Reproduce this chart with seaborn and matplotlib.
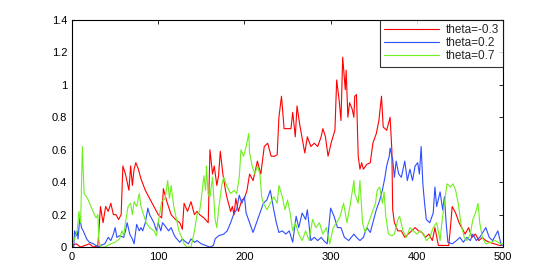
import matplotlib
matplotlib.use("Agg")
import matplotlib.pyplot as plt
import pandas as pd
import seaborn as sns

# theta = -0.3 (red)
red_x = [0, 5, 10, 15, 20, 25, 30, 33, 36, 39, 42, 45, 48, 51, 54, 57, 59, 62, 64, 66,
         68, 70, 72, 74, 77, 80, 85, 90, 95, 100, 104, 106, 110, 115, 120, 125, 128, 130,
         134, 138, 142, 145, 148, 153, 158, 160, 163, 165, 168, 170, 172, 175, 178, 180,
         184, 186, 188, 190, 193, 197, 200, 203, 206, 210, 213, 215, 219, 223, 227, 231,
         235, 238, 240, 243, 246, 250, 254, 256, 259, 261, 264, 267, 270, 273, 277, 281,
         285, 289, 291, 294, 297, 301, 305, 307, 310, 312, 314, 317, 318, 320, 322, 325,
         327, 328, 330, 332, 334, 336, 338, 342, 346, 349, 353, 356, 359, 361, 365, 369,
         371, 372, 374, 378, 382, 386, 390, 394, 398, 402, 406, 410, 414, 418, 421, 425,
         430, 437, 439, 441, 445, 449, 452, 456, 460, 464, 468, 472, 476, 480, 484, 490,
         496, 500]
red_y = [0.01, 0.02, 0.0, 0.01, 0.02, 0.0, 0.01, 0.25, 0.15, 0.25, 0.22, 0.27, 0.2, 0.2,
         0.17, 0.2, 0.5, 0.45, 0.4, 0.35, 0.5, 0.38, 0.48, 0.52, 0.48, 0.42, 0.35, 0.3,
         0.25, 0.2, 0.18, 0.36, 0.28, 0.2, 0.17, 0.15, 0.11, 0.27, 0.22, 0.28, 0.2, 0.22,
         0.2, 0.18, 0.15, 0.6, 0.45, 0.5, 0.38, 0.44, 0.59, 0.45, 0.35, 0.3, 0.22, 0.25,
         0.2, 0.3, 0.22, 0.29, 0.3, 0.35, 0.45, 0.41, 0.48, 0.53, 0.45, 0.62, 0.64, 0.56,
         0.56, 0.57, 0.8, 0.93, 0.73, 0.73, 0.73, 0.83, 0.68, 0.87, 0.76, 0.67, 0.58,
         0.68, 0.62, 0.64, 0.62, 0.68, 0.73, 0.68, 0.56, 0.65, 0.72, 1.03, 0.9, 0.78,
         1.17, 0.97, 1.09, 0.8, 0.89, 0.85, 0.8, 0.93, 0.94, 0.56, 0.48, 0.52, 0.48, 0.51,
         0.52, 0.64, 0.7, 0.78, 0.93, 0.74, 0.72, 0.8, 0.6, 0.23, 0.15, 0.1, 0.1, 0.06,
         0.08, 0.1, 0.12, 0.1, 0.09, 0.06, 0.08, 0.04, 0.12, 0.01, 0.01, 0.01, 0.12, 0.25,
         0.21, 0.15, 0.12, 0.08, 0.12, 0.06, 0.08, 0.04, 0.06, 0.04, 0.03, 0.02, 0.01,
         0.01]

# theta = 0.2 (blue)
blue_x = [0, 2, 3, 5, 6, 7, 9, 11, 13, 17, 20, 25, 30, 33, 38, 42, 45, 48, 50, 52, 55,
          60, 62, 64, 67, 70, 72, 75, 78, 80, 82, 85, 88, 90, 92, 95, 98, 100, 103, 105,
          108, 112, 115, 118, 120, 125, 128, 130, 135, 138, 142, 145, 150, 155, 160, 164,
          166, 170, 176, 180, 184, 188, 191, 194, 197, 200, 202, 206, 210, 214, 218, 222,
          226, 230, 232, 234, 237, 240, 244, 248, 252, 256, 260, 263, 267, 271, 273, 277,
          281, 285, 289, 292, 296, 300, 304, 308, 312, 316, 321, 327, 330, 334, 338, 342,
          346, 349, 353, 357, 360, 363, 365, 368, 369, 372, 374, 376, 379, 382, 386, 389,
          392, 395, 398, 401, 403, 405, 407, 409, 411, 415, 419, 421, 423, 427, 430, 432,
          434, 436, 441, 446, 450, 454, 458, 462, 465, 469, 473, 480, 484, 488, 494, 498,
          500]
blue_y = [0.0, 0.0, 0.1, 0.07, 0.1, 0.05, 0.18, 0.12, 0.1, 0.05, 0.03, 0.02, 0.0, 0.01,
          0.02, 0.06, 0.04, 0.08, 0.12, 0.06, 0.07, 0.06, 0.1, 0.15, 0.08, 0.05, 0.02,
          0.14, 0.1, 0.12, 0.1, 0.15, 0.24, 0.2, 0.18, 0.15, 0.1, 0.15, 0.1, 0.15, 0.13,
          0.1, 0.12, 0.08, 0.06, 0.03, 0.05, 0.04, 0.02, 0.05, 0.03, 0.04, 0.02, 0.01,
          0.0, 0.01, 0.05, 0.07, 0.08, 0.1, 0.15, 0.21, 0.23, 0.32, 0.27, 0.31, 0.21,
          0.15, 0.09, 0.15, 0.21, 0.27, 0.29, 0.35, 0.29, 0.23, 0.15, 0.09, 0.1, 0.08,
          0.1, 0.03, 0.19, 0.12, 0.21, 0.17, 0.23, 0.04, 0.06, 0.04, 0.06, 0.04, 0.02,
          0.24, 0.19, 0.12, 0.12, 0.06, 0.04, 0.08, 0.06, 0.04, 0.06, 0.12, 0.09, 0.15,
          0.23, 0.29, 0.35, 0.43, 0.5, 0.56, 0.61, 0.54, 0.43, 0.53, 0.45, 0.43, 0.53,
          0.41, 0.48, 0.41, 0.5, 0.52, 0.45, 0.62, 0.39, 0.27, 0.17, 0.15, 0.21, 0.37,
          0.25, 0.34, 0.23, 0.31, 0.15, 0.03, 0.02, 0.04, 0.06, 0.03, 0.06, 0.04, 0.08,
          0.04, 0.06, 0.12, 0.06, 0.04, 0.1, 0.01, 0.01]

# theta = 0.7 (green)
green_x = [0, 3, 6, 8, 10, 12, 14, 18, 22, 26, 28, 30, 31, 33, 38, 45, 50, 55, 58, 60,
           62, 65, 68, 70, 72, 75, 78, 80, 83, 86, 90, 95, 98, 100, 104, 108, 111, 113,
           115, 118, 120, 124, 128, 130, 133, 138, 142, 145, 148, 150, 153, 155, 156, 158,
           160, 163, 166, 168, 170, 174, 176, 180, 184, 188, 191, 194, 196, 199, 202, 205,
           206, 209, 212, 215, 218, 220, 222, 226, 230, 234, 238, 240, 244, 247, 250, 253,
           256, 259, 263, 267, 271, 275, 279, 283, 287, 291, 295, 299, 303, 307, 311, 315,
           319, 323, 327, 328, 332, 334, 337, 340, 344, 348, 352, 354, 357, 360, 362, 364,
           367, 371, 374, 378, 380, 384, 388, 392, 396, 400, 404, 408, 411, 415, 419, 423,
           427, 429, 432, 435, 439, 442, 445, 448, 451, 455, 458, 462, 465, 468, 471, 473,
           476, 480, 486, 491, 497, 500]
green_y = [0.02, 0.05, 0.1, 0.22, 0.15, 0.62, 0.33, 0.3, 0.25, 0.2, 0.18, 0.2, 0.05, 0.0,
           0.0, 0.02, 0.03, 0.05, 0.1, 0.07, 0.15, 0.25, 0.27, 0.2, 0.28, 0.25, 0.33, 0.25,
           0.2, 0.15, 0.12, 0.1, 0.07, 0.15, 0.28, 0.3, 0.41, 0.3, 0.38, 0.25, 0.2, 0.1,
           0.05, 0.02, 0.0, 0.0, 0.1, 0.2, 0.22, 0.3, 0.44, 0.35, 0.5, 0.32, 0.31, 0.43,
           0.17, 0.12, 0.23, 0.39, 0.43, 0.37, 0.33, 0.35, 0.33, 0.43, 0.6, 0.56, 0.62, 0.7,
           0.58, 0.5, 0.45, 0.5, 0.45, 0.31, 0.27, 0.23, 0.27, 0.31, 0.27, 0.38, 0.31, 0.23,
           0.29, 0.21, 0.1, 0.15, 0.08, 0.04, 0.1, 0.04, 0.17, 0.12, 0.15, 0.08, 0.12, 0.02,
           0.12, 0.15, 0.19, 0.27, 0.15, 0.27, 0.41, 0.33, 0.27, 0.41, 0.15, 0.09, 0.15,
           0.21, 0.27, 0.35, 0.37, 0.27, 0.34, 0.19, 0.08, 0.07, 0.08, 0.17, 0.19, 0.1,
           0.06, 0.12, 0.1, 0.08, 0.1, 0.08, 0.04, 0.06, 0.12, 0.15, 0.04, 0.15, 0.27, 0.39,
           0.37, 0.39, 0.35, 0.27, 0.15, 0.06, 0.04, 0.08, 0.17, 0.21, 0.27, 0.15, 0.06,
           0.02, 0.03, 0.04, 0.02, 0.02]

labels = ["theta=-0.3", "theta=0.2", "theta=0.7"]
colors = ["#ff0000", "#2f4dff", "#6ef01e"]

frames = []
for lab, xs, ys in zip(labels, [red_x, blue_x, green_x], [red_y, blue_y, green_y]):
    frames.append(pd.DataFrame({"t": xs, "value": ys, "series": lab}))
df = pd.concat(frames, ignore_index=True)

sns.set_style("white")
plt.rcParams["font.family"] = ["Liberation Sans", "DejaVu Sans"]

fig = plt.figure(figsize=(5.54, 2.77), dpi=100)
ax = fig.add_axes([0.130, 0.108, 0.778, 0.820])
sns.lineplot(data=df, x="t", y="value", hue="series", hue_order=labels,
             palette=dict(zip(labels, colors)), estimator=None, sort=False,
             linewidth=0.8, ax=ax)

ax.set_xlim(0, 500)
ax.set_ylim(0, 1.4)
ax.set_xticks(range(0, 501, 100))
yt = [0, 0.2, 0.4, 0.6, 0.8, 1.0, 1.2, 1.4]
ax.set_yticks(yt)
ax.set_yticklabels(["%g" % v for v in yt])
ax.set_xlabel("")
ax.set_ylabel("")
ax.tick_params(direction="in", length=3, width=0.6, labelsize=8,
               top=True, right=True, colors="black")
for s in ax.spines.values():
    s.set_color("black")
    s.set_linewidth(0.8)

leg = ax.legend(loc="upper right", borderaxespad=0, fontsize=8.5, frameon=True,
                fancybox=False, handlelength=4.6, handletextpad=0.6,
                labelspacing=0.1, borderpad=0.35)
leg.get_frame().set_edgecolor("black")
leg.get_frame().set_linewidth(0.8)

plt.savefig("out.png", dpi=100)
